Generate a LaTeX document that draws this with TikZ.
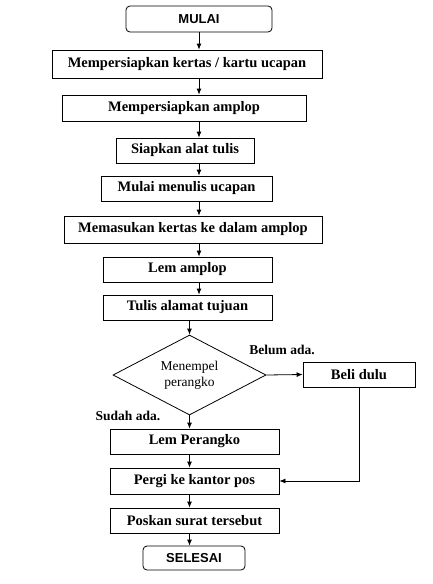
\documentclass[tikz,border=0pt]{standalone}
\usepackage{fontspec}
\setmainfont{Liberation Serif}
\newfontfamily\sans{Liberation Sans}
\usetikzlibrary{arrows.meta,shapes.geometric}
\begin{document}
\begin{tikzpicture}[x=1pt,y=-1pt,
  box/.style={draw,thick,inner sep=0pt,font=\bfseries\fontsize{14.5}{16}\selectfont},
  term/.style={draw,thick,rounded corners=4pt,inner sep=0pt,font=\sans\bfseries\fontsize{13}{14}\selectfont},
  arr/.style={-{Latex[length=6pt,width=5pt]},thick},
  lbl/.style={font=\bfseries\fontsize{13.5}{15}\selectfont}]
\useasboundingbox (0,0) rectangle (433,584);
\node[term,minimum width=146pt,minimum height=26pt] (s) at (199,19) {MULAI};
\node[box,minimum width=270pt,minimum height=28pt] (b1) at (187,64) {Mempersiapkan kertas / kartu ucapan};
\node[box,minimum width=244pt,minimum height=26pt] (b2) at (184,108) {Mempersiapkan amplop};
\node[box,minimum width=138pt,minimum height=25pt] (b3) at (185,150.5) {Siapkan alat tulis};
\node[box,minimum width=171pt,minimum height=25pt] (b4) at (186.5,188.5) {Mulai menulis ucapan};
\node[box,minimum width=258pt,minimum height=27pt] (b5) at (193,229.5) {Memasukan kertas ke dalam amplop};
\node[box,minimum width=169pt,minimum height=25pt] (b6) at (187.5,269.5) {Lem amplop};
\node[box,minimum width=169pt,minimum height=25pt] (b7) at (187.5,307.5) {Tulis alamat tujuan};
\node[draw,thick,diamond,aspect=1.9,minimum width=153pt,minimum height=80pt,inner sep=0pt,align=center,font=\fontsize{13.5}{16}\selectfont] (d) at (189.5,375) {Menempel\\perangko};
\node[box,minimum width=112pt,minimum height=25pt] (beli) at (359,374.5) {Beli dulu};
\node[box,minimum width=169pt,minimum height=25pt] (b8) at (194.5,441.5) {Lem Perangko};
\node[box,minimum width=169pt,minimum height=26pt] (b9) at (194.5,481) {Pergi ke kantor pos};
\node[box,minimum width=169pt,minimum height=25pt] (b10) at (194.5,520.5) {Poskan surat tersebut};
\node[term,minimum width=102pt,minimum height=24pt] (e) at (194,558) {SELESAI};
\draw[arr] (s.south) -- (s.south|-b1.north);
\draw[arr] (b1.south-|s.south) -- (s.south|-b2.north);
\draw[arr] (b2.south-|s.south) -- (s.south|-b3.north);
\draw[arr] (b3.south-|s.south) -- (s.south|-b4.north);
\draw[arr] (b4.south-|s.south) -- (s.south|-b5.north);
\draw[arr] (b5.south-|s.south) -- (s.south|-b6.north);
\draw[arr] (b6.south-|s.south) -- (s.south|-b7.north);
\draw[arr] (b7.south-|d.north) -- (d.north);
\draw[arr] (d.east) -- (beli.west);
\draw[arr] (d.south) -- (d.south|-b8.north);
\draw[arr] (b8.south-|d.south) -- (d.south|-b9.north);
\draw[arr] (beli.south) |- (b9.east);
\draw[arr] (b9.south-|d.south) -- (d.south|-b10.north);
\draw[arr] (b10.south-|d.south) -- (d.south|-e.north);
\node[lbl] (l1) at (282,350) {Belum ada.};
\node[lbl] (l2) at (128,416) {Sudah ada.};
\end{tikzpicture}
\end{document}
